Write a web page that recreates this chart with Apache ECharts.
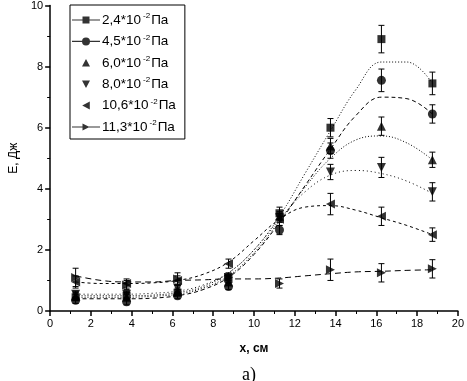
<!DOCTYPE html>
<html>
<head>
<meta charset="utf-8">
<script src="https://cdn.jsdelivr.net/npm/echarts@6/dist/echarts.min.js"></script>
<style>html,body{margin:0;padding:0;background:#fff}#c{width:467px;height:381px}</style>
</head>
<body>
<div id="c"></div>
<script>
// ---- data ----
const xPos = [1.25, 3.75, 6.25, 8.75, 11.25, 13.75, 16.25, 18.75];
const pressureBase = ['2,4', '4,5', '6,0', '8,0', '10,6', '11,3'];
const pressureExp = '-2';

const e1 = [0.45, 0.50, 0.60, 1.05, 3.20, 6.00, 8.90, 7.45];
const e2 = [0.35, 0.30, 0.50, 0.80, 2.65, 5.25, 7.55, 6.45];
const e3 = [0.50, 0.45, 0.65, 0.95, 3.10, 5.40, 6.05, 4.95];
const e4 = [0.55, 0.55, 0.75, 1.10, 3.05, 4.55, 4.70, 3.90];
const e5 = [0.95, 0.90, 1.00, 1.55, 3.00, 3.50, 3.10, 2.50];
const e6 = [1.10, 0.85, 1.05, 1.10, 0.90, 1.35, 1.25, 1.38];

const err1 = [0.10, 0.10, 0.10, 0.12, 0.20, 0.30, 0.45, 0.37];
const err2 = [0.10, 0.10, 0.10, 0.10, 0.15, 0.25, 0.37, 0.30];
const err3 = [0.10, 0.10, 0.10, 0.10, 0.15, 0.25, 0.30, 0.25];
const err4 = [0.10, 0.10, 0.10, 0.10, 0.15, 0.25, 0.33, 0.30];
const err5 = [0.20, 0.15, 0.15, 0.15, 0.20, 0.35, 0.30, 0.22];
const err6 = [0.30, 0.15, 0.20, 0.15, 0.15, 0.35, 0.30, 0.30];

// fitted curves
const fitX = [1.25, 2.5, 3.75, 5, 6.25, 7.5, 8.75, 10, 11.25, 12.5, 13.75, 15, 16.25, 17.5, 18.75];
const fit1 = [0.50, 0.50, 0.50, 0.52, 0.60, 0.80, 1.25, 2.00, 3.10, 4.50, 5.90, 7.25, 8.15, 8.15, 7.45];
const fit2 = [0.40, 0.40, 0.40, 0.42, 0.50, 0.70, 1.10, 1.85, 2.90, 4.10, 5.30, 6.40, 7.00, 6.95, 6.45];
const fit3 = [0.45, 0.45, 0.45, 0.48, 0.55, 0.75, 1.15, 1.90, 2.95, 4.05, 5.00, 5.60, 5.73, 5.50, 4.95];
const fit4 = [0.55, 0.55, 0.55, 0.58, 0.65, 0.85, 1.25, 2.00, 3.00, 3.90, 4.45, 4.60, 4.50, 4.25, 3.85];
const fit5 = [0.95, 0.90, 0.90, 0.92, 1.00, 1.20, 1.60, 2.30, 3.00, 3.40, 3.45, 3.30, 3.05, 2.80, 2.50];
const fit6 = [1.15, 1.00, 0.95, 0.95, 1.00, 1.02, 1.05, 1.05, 1.08, 1.15, 1.22, 1.28, 1.30, 1.33, 1.35];

const xTicks = [0, 2, 4, 6, 8, 10, 12, 14, 16, 18, 20];
const yTicks = [0, 2, 4, 6, 8, 10];

// ---- build chart ----
const values = [e1, e2, e3, e4, e5, e6];
const errors = [err1, err2, err3, err4, err5, err6];
const fits = [fit1, fit2, fit3, fit4, fit5, fit6];
const symbols = ['rect', 'circle', 'triangle', 'triangle', 'triangle', 'triangle'];
const rotates = [0, 0, 0, 180, 90, -90];
const dashes = [[1, 2], [4, 3], [1, 2], [1, 3], [3, 3], [6, 4]];
// corner specks keep every icon's box at 28x10 so nothing is stretched
const box = ' M0,0H0.01V0.01H0Z M27.99,9.99H28V10H27.99Z';
const lineBar = 'M0,4.4H28V5.6H0Z ';
const icons = [
  'path://' + lineBar + 'M10.5,1.5H17.5V8.5H10.5Z' + box,
  'path://' + lineBar + 'M10,5A4,4 0 1,1 18,5A4,4 0 1,1 10,5Z' + box,
  'path://M10,8.8L14,1.2L18,8.8Z' + box,
  'path://M10,1.2L18,1.2L14,8.8Z' + box,
  'path://M17.8,1L17.8,9L10.2,5Z' + box,
  'path://' + lineBar + 'M10.5,1.5L17.5,5L10.5,8.5Z' + box
];
const names = pressureBase.map(b => b + '*10' + pressureExp + 'Па');

const series = [];
names.forEach((name, k) => {
  series.push({
    name: 'fit' + k, type: 'line', smooth: 0.4, showSymbol: false, silent: true,
    data: fitX.map((x, i) => [x, fits[k][i]]),
    lineStyle: { color: '#000', width: 1, type: dashes[k] }, z: 2
  });
  series.push({
    name: name + '_err', type: 'custom', silent: true,
    data: xPos.map((x, i) => [x, values[k][i], errors[k][i]]),
    renderItem: function (params, api) {
      const x = api.value(0), y = api.value(1), e = api.value(2);
      const t = api.coord([x, y + e]), b = api.coord([x, y - e]);
      const st = { stroke: '#000', lineWidth: 1 };
      return { type: 'group', children: [
        { type: 'line', shape: { x1: t[0], y1: t[1], x2: b[0], y2: b[1] }, style: st },
        { type: 'line', shape: { x1: t[0] - 3, y1: t[1], x2: t[0] + 3, y2: t[1] }, style: st },
        { type: 'line', shape: { x1: b[0] - 3, y1: b[1], x2: b[0] + 3, y2: b[1] }, style: st }
      ]};
    }, z: 3
  });
  series.push({
    name: name, type: 'scatter',
    symbol: symbols[k], symbolRotate: rotates[k], symbolSize: k === 0 ? 8 : 9,
    data: xPos.map((x, i) => [x, values[k][i]]),
    itemStyle: { color: '#000' }, z: 4
  });
});

const chart = echarts.init(document.getElementById('c'), null, { renderer: 'canvas' });
const axisText = { color: '#000', fontSize: 11, fontFamily: 'Liberation Sans, Arial, sans-serif' };
chart.setOption({
  animation: false,
  backgroundColor: '#fff',
  grid: { left: 44, right: 7, top: 5, bottom: 70, containLabel: false },
  title: {
    text: 'a)', left: 237, top: 361,
    textStyle: { fontFamily: 'Liberation Serif, Times New Roman, serif', fontSize: 18, fontWeight: 'normal', color: '#000' }
  },
  legend: {
    orient: 'vertical', left: 70, top: 5,
    data: names.map((n, k) => ({ name: n, icon: icons[k] })),
    itemWidth: 28, itemHeight: 10, itemGap: 6.4,
    borderColor: '#000', borderWidth: 1, borderRadius: 0,
    padding: [7, 9, 5, 2],
    selectedMode: false,
    itemStyle: { color: '#000' },
    formatter: function (name) {
      const k = names.indexOf(name);
      return '{a|' + pressureBase[k] + '*10}{s|' + pressureExp + '}{a|Па}';
    },
    textStyle: {
      color: '#000', fontFamily: 'Liberation Sans, Arial, sans-serif', fontSize: 13.5, padding: [0, 0, 0, -3],
      rich: {
        a: { fontSize: 13.5, color: '#000', fontFamily: 'Liberation Sans, Arial, sans-serif' },
        s: { fontSize: 8, color: '#000', fontFamily: 'Liberation Sans, Arial, sans-serif', padding: [0, 1, 8, 2] }
      }
    }
  },
  xAxis: {
    type: 'value', min: 0, max: 20, interval: 2,
    name: 'x, см', nameLocation: 'middle', nameGap: 32,
    nameTextStyle: { color: '#000', fontSize: 12, fontWeight: 'bold', fontFamily: 'Liberation Sans, Arial, sans-serif' },
    axisLine: { onZero: false, lineStyle: { color: '#000', width: 1.5 } },
    axisTick: { show: true, inside: false, length: 5, lineStyle: { color: '#000', width: 1.5 } },
    minorTick: { show: true, splitNumber: 2, length: 3, lineStyle: { color: '#000', width: 1 } },
    splitLine: { show: false },
    axisLabel: Object.assign({ margin: 7, formatter: v => xTicks.includes(v) ? String(v) : '' }, axisText)
  },
  yAxis: {
    type: 'value', min: 0, max: 10, interval: 2,
    name: 'E, Дж', nameLocation: 'middle', nameGap: 30, nameRotate: 90,
    nameTextStyle: { color: '#000', fontSize: 12, fontFamily: 'Liberation Sans, Arial, sans-serif' },
    axisLine: { onZero: false, lineStyle: { color: '#000', width: 1.5 } },
    axisTick: { show: true, inside: false, length: 5, lineStyle: { color: '#000', width: 1.5 } },
    minorTick: { show: true, splitNumber: 2, length: 3, lineStyle: { color: '#000', width: 1 } },
    splitLine: { show: false },
    axisLabel: Object.assign({ margin: 7, formatter: v => yTicks.includes(v) ? String(v) : '' }, axisText)
  },
  series: series
});
</script>
</body>
</html>
